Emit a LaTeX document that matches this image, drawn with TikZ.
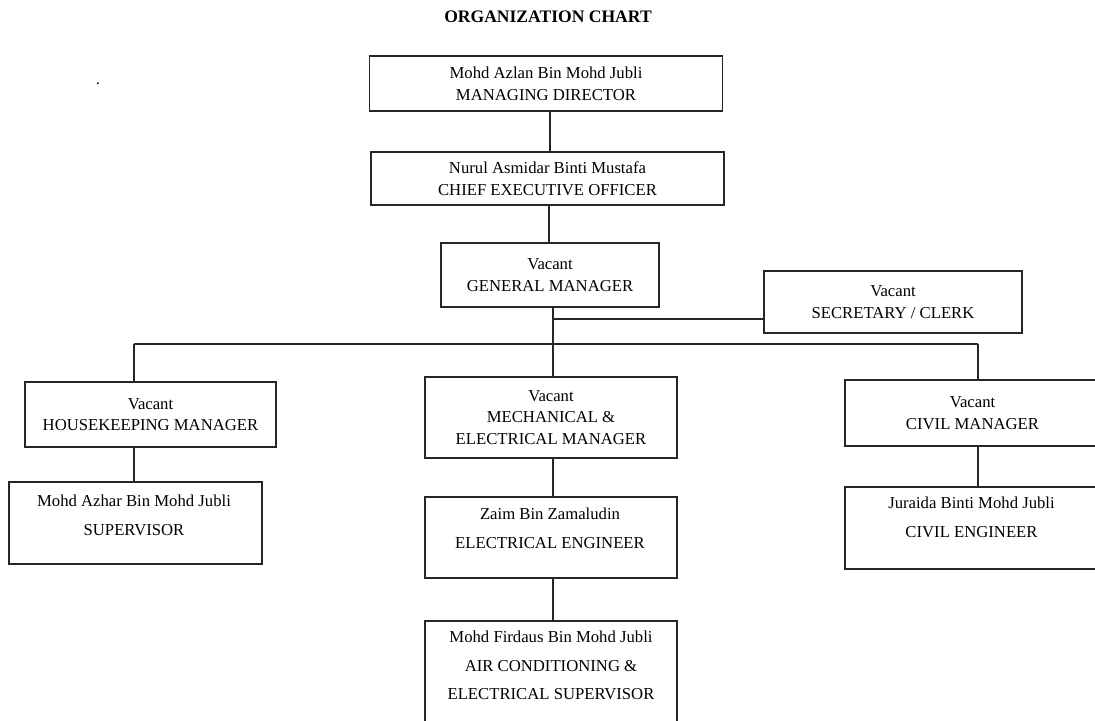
\documentclass[tikz,border=0pt]{standalone}
\usepackage{fontspec}
\setmainfont{Liberation Serif}
\usepackage{tikz}

\tikzset{
	box/.style={draw=black!85, line width=0.8pt, align=center, inner sep=0pt,
		font=\fontsize{9.5}{12.3}\selectfont},
	boxtext/.style={align=center, inner sep=0pt, font=\fontsize{9.5}{12.3}\selectfont},
	link/.style={draw=black!85, line width=0.8pt}
}

\begin{document}
\begin{tikzpicture}[x=0.02cm, y=-0.02cm]
\useasboundingbox (0,0) rectangle (1095,720);

\node[font=\bfseries\fontsize{10}{12}\selectfont] (title) at (548,17) {ORGANIZATION CHART};
\node[font=\fontsize{9.5}{12}\selectfont] (dot) at (98,84) {.};

% top of the chart
\node[box, minimum width=7.06cm, minimum height=1.10cm] (md) at (546,83.5)
	{Mohd Azlan Bin Mohd Jubli\\MANAGING DIRECTOR};
\node[box, minimum width=7.06cm, minimum height=1.06cm] (ceo) at (547.5,178.5)
	{Nurul Asmidar Binti Mustafa\\CHIEF EXECUTIVE OFFICER};
\node[box, minimum width=4.36cm, minimum height=1.28cm] (gm) at (550,275)
	{Vacant\\GENERAL MANAGER};
\node[box, minimum width=5.16cm, minimum height=1.24cm] (sec) at (893,302)
	{Vacant\\SECRETARY / CLERK};

% managers
\node[box, minimum width=5.02cm, minimum height=1.30cm] (hk) at (150.5,414.5)
	{Vacant\\HOUSEKEEPING MANAGER};
\node[box, minimum width=5.04cm, minimum height=1.62cm] (me) at (551,417.5)
	{Vacant\\MECHANICAL \&\\ELECTRICAL MANAGER};
\node[box, minimum width=5.10cm, minimum height=1.32cm] (civ) at (972.5,413)
	{Vacant\\CIVIL MANAGER};

% staff boxes, text sits high in the box
\node[box, minimum width=5.06cm, minimum height=1.64cm] (sup) at (135.5,523) {};
\node[boxtext] (supt) at (134,515) {Mohd Azhar Bin Mohd Jubli\\[4.1pt]SUPERVISOR};
\node[box, minimum width=5.04cm, minimum height=1.62cm] (ee) at (551,537.5) {};
\node[boxtext] (eet) at (550,528.5) {Zaim Bin Zamaludin\\[4.1pt]ELECTRICAL ENGINEER};
\node[box, minimum width=5.04cm, minimum height=2.38cm] (ac) at (551,680.5) {};
\node[boxtext] (act) at (551,665.5)
	{Mohd Firdaus Bin Mohd Jubli\\[4.1pt]AIR CONDITIONING \&\\[4.1pt]ELECTRICAL SUPERVISOR};
\node[box, minimum width=5.10cm, minimum height=1.64cm] (ce) at (972.5,528) {};
\node[boxtext] (cet) at (971.5,517.5) {Juraida Binti Mohd Jubli\\[4.1pt]CIVIL ENGINEER};

% connectors
\coordinate (secj) at (553,319);
\coordinate (busl) at (134,344);
\coordinate (busr) at (978,344);

\draw[link] (ceo.north -| 550,0) -- (md.south -| 550,0);
\draw[link] (gm.north -| 549,0) -- (ceo.south -| 549,0);
\draw[link] (gm.south -| secj) -- (me.north -| secj);
\draw[link] (secj) -- (secj -| sec.west);
\draw[link] (busl) -- (busr);
\draw[link] (busl) -- (busl |- hk.north);
\draw[link] (busr) -- (busr |- civ.north);
\draw[link] (busl |- hk.south) -- (busl |- sup.north);
\draw[link] (me.south -| secj) -- (ee.north -| secj);
\draw[link] (ee.south -| secj) -- (ac.north -| secj);
\draw[link] (busr |- civ.south) -- (busr |- ce.north);

\end{tikzpicture}
\end{document}
